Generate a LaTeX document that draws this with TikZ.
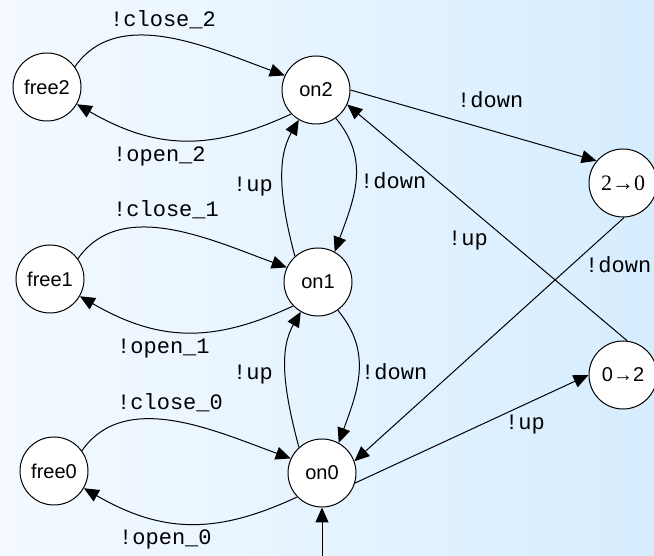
\documentclass[tikz,border=0pt]{standalone}
\usepackage{fontspec}
\setmainfont{Liberation Sans}
\newfontfamily\labelfont{Liberation Mono}
\newfontfamily\numfont{Liberation Serif}
\usetikzlibrary{arrows.meta}
\definecolor{bgleft}{RGB}{244,250,255}
\definecolor{bgright}{RGB}{214,237,255}
\begin{document}
\begin{tikzpicture}[x=1pt,y=1pt,
  state/.style={circle,draw,fill=white,line width=1pt,minimum size=68pt,inner sep=0pt,
    font=\fontsize{20}{20}\selectfont},
  edge/.style={line width=1pt,-{Triangle[length=15pt,width=13pt]}},
  lbl/.style={anchor=base west,inner sep=0pt,font=\labelfont\fontsize{22}{22}\selectfont}]
% background
\shade[left color=bgleft,right color=bgright] (0,0) rectangle (654,556);
\useasboundingbox (0,0) rectangle (654,556);

% states
\node[state] (free2) at (47,469) {free2};
\node[state] (on2)   at (316,466) {on2};
\node[state] (free1) at (50,277) {free1};
\node[state] (on1)   at (318,274) {on1};
\node[state] (free0) at (54,85) {free0};
\node[state] (on0)   at (322,83) {on0};
\node[state,font=\numfont\fontsize{22}{22}\selectfont] (t20) at (623,373) {2→0};
\node[state] (t02) at (623,181) {0→2};
\coordinate (init) at (322,0);

% free <-> on pairs
\foreach \f/\o in {free2/on2,free1/on1,free0/on0}{
  \draw[edge] (\f.36) .. controls +(55:75) and +(160:80) .. (\o.155);
  \draw[edge] (\o.224) .. controls +(205:90) and +(-30:90) .. (\f.-30);
}

% up/down loops between the on states
\foreach \lo/\hi in {on1/on2,on0/on1}{
  \draw[edge] (\lo.132) .. controls +(105:65) and +(240:42) .. (\hi.240);
  \draw[edge] (\hi.-55) .. controls +(-50:55) and +(70:55) .. (\lo.61);
}

% transfer states
\draw[edge] (on2.east) -- (t20.140);
\draw[edge] (t20.-88) -- (on0.20);
\draw[edge] (t02.83) -- (on2.-25);
\draw[edge] (on0.-17) -- (t02.west);
\draw[edge] (init) -- (on0.south);

% labels
\node[lbl] at (110,529) {!close\_2};
\node[lbl] at (113,394) {!open\_2};
\node[lbl] at (233,364) {!up};
\node[lbl] at (360,367) {!down};
\node[lbl] at (113,339) {!close\_1};
\node[lbl] at (117,202) {!open\_1};
\node[lbl] at (233,176) {!up};
\node[lbl] at (361,176) {!down};
\node[lbl] at (117,146) {!close\_0};
\node[lbl] at (119,11) {!open\_0};
\node[lbl] at (457,448) {!down};
\node[lbl] at (448,310) {!up};
\node[lbl] at (585,283) {!down};
\node[lbl] at (505,126) {!up};
\end{tikzpicture}
\end{document}
